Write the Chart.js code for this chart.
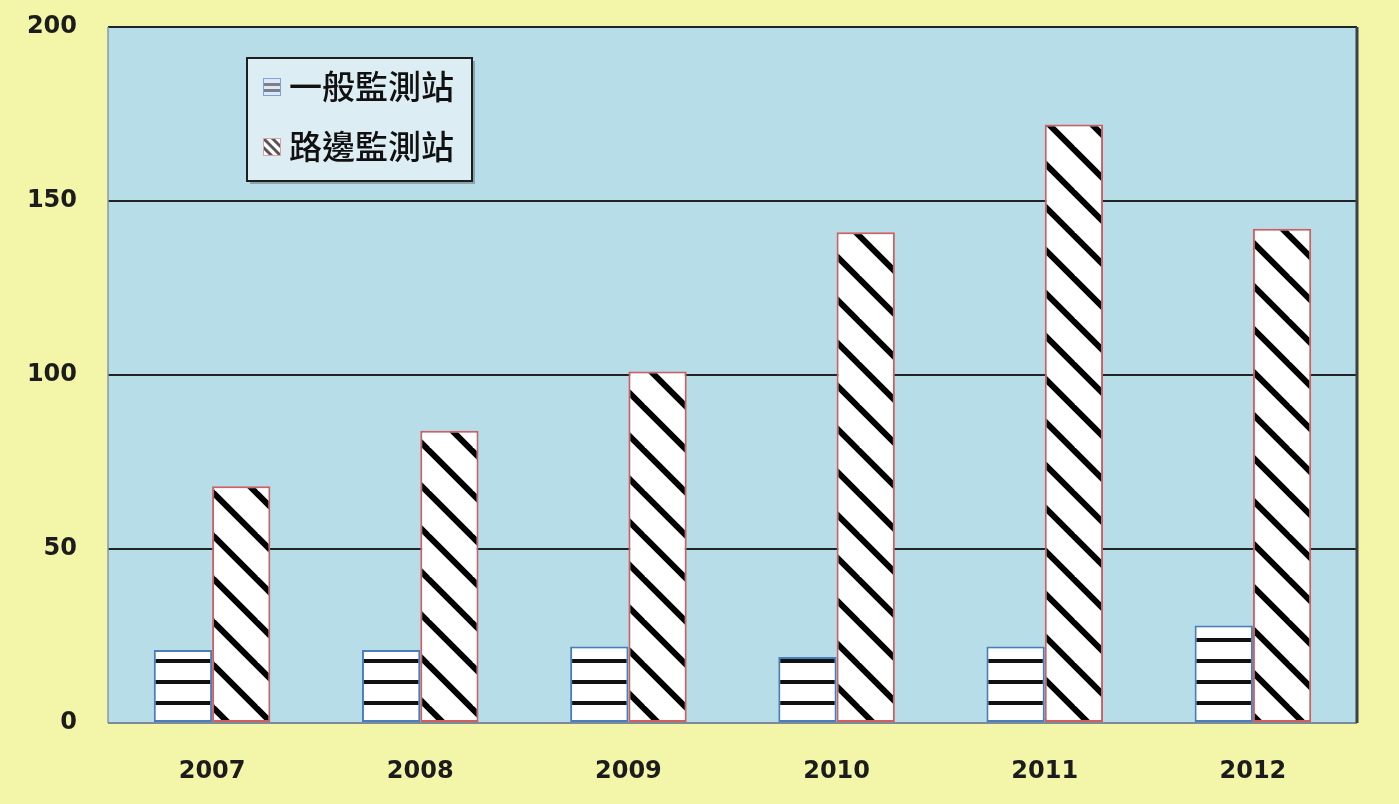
<!DOCTYPE html>
<html>
<head>
<meta charset="utf-8">
<script src="https://cdn.jsdelivr.net/npm/chart.js@4"></script>
<style>
  html, body { margin: 0; padding: 0; background: #f3f5a9; }
  #wrap { width: 1399px; height: 804px; position: relative; }
</style>
</head>
<body>
<div id="wrap"><canvas id="stationChart"></canvas></div>
<script>
// Data
const years = ["2007", "2008", "2009", "2010", "2011", "2012"];
const generalStations = [21, 21, 22, 19, 22, 28];
const roadsideStations = [68, 84, 101, 141, 172, 142];
const seriesLabels = ["一般監測站", "路邊監測站"];
const yTicks = [0, 50, 100, 150, 200];

// Hatch patterns
function makeHorizontalHatch() {
  const c = document.createElement("canvas");
  c.width = 20; c.height = 21;
  const g = c.getContext("2d");
  g.fillStyle = "#ffffff";
  g.fillRect(0, 0, 20, 21);
  g.fillStyle = "#111111";
  g.fillRect(0, 8, 20, 4);
  return g.createPattern(c, "repeat");
}

function makeDiagonalHatch() {
  const s = 43;
  const c = document.createElement("canvas");
  c.width = s; c.height = s;
  const g = c.getContext("2d");
  g.fillStyle = "#ffffff";
  g.fillRect(0, 0, s, s);
  g.strokeStyle = "#000000";
  g.lineWidth = 6;
  // "\" lines, offset so none crosses a tile corner
  for (let k = -2; k <= 1; k++) {
    const c0 = s / 2 + k * s;
    g.beginPath();
    g.moveTo(-s, -s + c0);
    g.lineTo(2 * s, 2 * s + c0);
    g.stroke();
  }
  return g.createPattern(c, "repeat");
}

const hatchH = makeHorizontalHatch();
const hatchD = makeDiagonalHatch();

// small legend swatches
function drawSwatch(ctx, i, x, y) {
  const w = 18, h = 18;
  ctx.save();
  ctx.beginPath();
  ctx.rect(x, y, w, h);
  ctx.clip();
  ctx.fillStyle = i === 0 ? "#dce8f5" : "#ffffff";
  ctx.fillRect(x, y, w, h);
  if (i === 0) {
    ctx.fillStyle = "#7a7f88";
    ctx.fillRect(x, y + 5, w, 3);
    ctx.fillRect(x, y + 11, w, 3);
  } else {
    ctx.strokeStyle = "#555555";
    ctx.lineWidth = 3;
    for (let k = -1; k <= 1; k++) {
      ctx.beginPath();
      ctx.moveTo(x + k * 9 - 4, y - 4);
      ctx.lineTo(x + k * 9 + w + 4, y + h + 4);
      ctx.stroke();
    }
  }
  ctx.restore();
  ctx.strokeStyle = i === 0 ? "#7ea3d4" : "#e0a0a0";
  ctx.lineWidth = 1;
  ctx.strokeRect(x + 0.5, y + 0.5, w - 1, h - 1);
}

// Plot background, borders and the boxed legend inside the plot
const plotDecor = {
  id: "plotDecor",
  beforeDraw(chart) {
    const { ctx, chartArea: a } = chart;
    ctx.save();
    ctx.fillStyle = "#b7dde8";
    ctx.fillRect(a.left, a.top, a.right - a.left, a.bottom - a.top);
    ctx.restore();
  },
  afterDraw(chart) {
    const { ctx, chartArea: a } = chart;
    ctx.save();
    // left border
    ctx.strokeStyle = "#8a9aa0";
    ctx.lineWidth = 1.5;
    ctx.beginPath();
    ctx.moveTo(a.left, a.top);
    ctx.lineTo(a.left, a.bottom);
    ctx.stroke();
    // bottom border
    ctx.strokeStyle = "#7b8c98";
    ctx.lineWidth = 2;
    ctx.beginPath();
    ctx.moveTo(a.left, a.bottom);
    ctx.lineTo(a.right, a.bottom);
    ctx.stroke();
    // right border
    ctx.strokeStyle = "#3a4246";
    ctx.lineWidth = 3;
    ctx.beginPath();
    ctx.moveTo(a.right, a.top);
    ctx.lineTo(a.right, a.bottom);
    ctx.stroke();

    // legend box
    const lx = a.left + 139, ly = a.top + 31, lw = 225, lh = 123;
    ctx.fillStyle = "rgba(0,0,0,0.25)";
    ctx.fillRect(lx + 3, ly + 3, lw, lh);
    ctx.fillStyle = "#dcedf3";
    ctx.fillRect(lx, ly, lw, lh);
    ctx.strokeStyle = "#1e1e1e";
    ctx.lineWidth = 2;
    ctx.strokeRect(lx, ly, lw, lh);

    ctx.font = "500 33px 'Noto Sans CJK TC', sans-serif";
    ctx.textBaseline = "middle";
    ctx.textAlign = "left";
    chart.data.datasets.forEach((ds, i) => {
      const cy = ly + 28 + i * 60;
      drawSwatch(ctx, i, lx + 16, cy - 8);
      ctx.fillStyle = "#111111";
      ctx.fillText(ds.label, lx + 42, cy);
    });
    ctx.restore();
  },
};

const tickFont = { family: "'DejaVu Sans', sans-serif", size: 24, weight: "bold" };

new Chart(document.getElementById("stationChart").getContext("2d"), {
  type: "bar",
  data: {
    labels: years,
    datasets: [
      {
        label: seriesLabels[0],
        data: generalStations,
        backgroundColor: hatchH,
        borderColor: "#4a7ebb",
        borderWidth: 2,
        borderSkipped: false,
      },
      {
        label: seriesLabels[1],
        data: roadsideStations,
        backgroundColor: hatchD,
        borderColor: "#d06060",
        borderWidth: 2,
        borderSkipped: false,
      },
    ],
  },
  options: {
    responsive: true,
    maintainAspectRatio: false,
    animation: false,
    layout: { padding: { top: 27, right: 42, bottom: 0, left: 0 } },
    datasets: {
      bar: { categoryPercentage: 0.56, barPercentage: 1.0 },
    },
    plugins: {
      legend: { display: false },
      tooltip: { enabled: false },
    },
    scales: {
      x: {
        grid: { display: false },
        border: { display: false },
        ticks: { font: tickFont, color: "#1c1c1c", padding: 26 },
        afterFit(scale) { scale.height = 81; },
      },
      y: {
        min: 0,
        max: 200,
        afterBuildTicks(scale) { scale.ticks = yTicks.map((v) => ({ value: v })); },
        grid: {
          drawTicks: false,
          color: (c) => (c.tick && c.tick.value === 0 ? "rgba(0,0,0,0)" : "#1f2426"),
          lineWidth: 2,
        },
        border: { display: false },
        ticks: { font: tickFont, color: "#1c1c1c", padding: 31 },
        afterFit(scale) {
          scale.width = 108;
          scale.paddingTop = 0;
          scale.paddingBottom = 0;
        },
      },
    },
  },
  plugins: [plotDecor],
});
</script>
</body>
</html>
